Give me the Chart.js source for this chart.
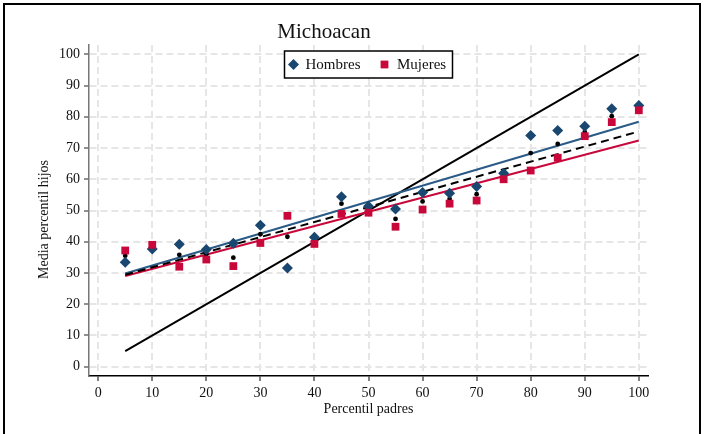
<!DOCTYPE html>
<html>
<head>
<meta charset="utf-8">
<script src="https://cdn.jsdelivr.net/npm/chart.js@4.4.1/dist/chart.umd.min.js"></script>
<style>
  body { margin: 0; background: #fff; }
  #wrap { position: relative; width: 704px; height: 434px; overflow: hidden; }
  #frame {
    position: absolute; left: 3px; top: 3px; width: 694px; height: 470px;
    border: 2px solid #000; border-bottom: none; pointer-events: none;
  }
</style>
</head>
<body>
<div id="wrap">
  <canvas id="chart" width="704" height="434"></canvas>
  <div id="frame"></div>
</div>
<script>
// percentil de los padres (eje x)
const percentiles = [5, 10, 15, 20, 25, 30, 35, 40, 45, 50, 55, 60, 65, 70, 75, 80, 85, 90, 95, 100];
// media del percentil de los hijos
const hombres = [33.4, 37.7, 39.2, 37.5, 39.5, 45.3, 31.6, 41.4, 54.4, 51.4, 50.5, 55.8, 55.5, 57.7, 61.9, 74.0, 75.6, 77.0, 82.6, 83.6];
const mujeres = [37.2, 39.0, 32.0, 34.3, 32.2, 39.6, 48.3, 39.3, 48.9, 49.3, 44.8, 50.3, 52.2, 53.2, 60.0, 62.8, 66.9, 73.8, 78.3, 82.1];
const total = [35.5, 38.3, 35.8, 36.0, 34.9, 42.4, 41.6, 40.4, 52.2, 50.3, 47.3, 52.9, 53.7, 55.2, 61.0, 68.4, 71.3, 75.1, 80.2, 82.9];

// rectas ajustadas (extremos) y linea de 45 grados
const fitX = [5, 100];
const fitHombres = [29.8, 78.4];
const fitMujeres = [29.0, 72.4];
const fitTotal = [29.4, 75.3];
const diagonal = [5, 100];

const xTicks = [0, 10, 20, 30, 40, 50, 60, 70, 80, 90, 100];
const yTicks = [0, 10, 20, 30, 40, 50, 60, 70, 80, 90, 100];

const titulo = 'Michoacan';
const xTitulo = 'Percentil padres';
const yTitulo = 'Media percentil hijos';

const azul = '#1a476f';
const azulLinea = '#2a5a86';
const rojo = '#c8083a';
const serif = '"Liberation Serif", "Times New Roman", serif';

const pts = (xs, ys) => xs.map((x, i) => ({ x: x, y: ys[i] }));

Chart.defaults.font.family = serif;
Chart.defaults.color = '#111';

// leyenda con marco dentro del area del grafico
const legendBox = {
  id: 'legendBox',
  afterDraw(chart) {
    const { ctx, chartArea } = chart;
    const w = 168, h = 27;
    const left = (chartArea.left + chartArea.right) / 2 - w / 2;
    const top = chartArea.top + 6;
    const cy = top + h / 2;
    ctx.save();
    ctx.fillStyle = '#fff';
    ctx.fillRect(left, top, w, h);
    ctx.strokeStyle = '#000';
    ctx.lineWidth = 1.5;
    ctx.strokeRect(left, top, w, h);

    // rombo
    ctx.fillStyle = azul;
    ctx.beginPath();
    ctx.moveTo(left + 9, cy - 5.5);
    ctx.lineTo(left + 14.5, cy);
    ctx.lineTo(left + 9, cy + 5.5);
    ctx.lineTo(left + 3.5, cy);
    ctx.closePath();
    ctx.fill();
    // cuadro
    ctx.fillStyle = rojo;
    ctx.fillRect(left + 100 - 3.9, cy - 3.9, 7.8, 7.8);

    ctx.fillStyle = '#111';
    ctx.font = '15px ' + serif;
    ctx.textBaseline = 'middle';
    ctx.fillText('Hombres', left + 21, cy + 1);
    ctx.fillText('Mujeres', left + 112.5, cy + 1);
    ctx.restore();
  }
};

// titulo del eje y
const yAxisTitle = {
  id: 'yAxisTitle',
  afterDraw(chart) {
    const { ctx, chartArea } = chart;
    ctx.save();
    ctx.translate(chartArea.left - 45, (chartArea.top + chartArea.bottom) / 2 + 9);
    ctx.rotate(-Math.PI / 2);
    ctx.font = '14px ' + serif;
    ctx.textAlign = 'center';
    ctx.textBaseline = 'middle';
    ctx.fillStyle = '#111';
    ctx.fillText(yTitulo, 0, 0);
    ctx.restore();
  }
};

new Chart(document.getElementById('chart'), {
  type: 'scatter',
  data: {
    datasets: [
      { label: 'Hombres', data: pts(percentiles, hombres), pointStyle: 'rectRot', pointRadius: 5.5,
        backgroundColor: azul, borderWidth: 0, order: 1 },
      { label: 'Mujeres', data: pts(percentiles, mujeres), pointStyle: 'rect', pointRadius: 5.5,
        backgroundColor: rojo, borderWidth: 0, order: 0 },
      { label: 'Total', data: pts(percentiles, total), pointStyle: 'circle', pointRadius: 2.4,
        backgroundColor: '#000', borderWidth: 0, order: 2 },
      { label: 'Ajuste total', data: pts(fitX, fitTotal), showLine: true, pointRadius: 0,
        borderColor: '#000', borderWidth: 2, borderDash: [8, 5], order: 3 },
      { label: 'Ajuste mujeres', data: pts(fitX, fitMujeres), showLine: true, pointRadius: 0,
        borderColor: rojo, borderWidth: 2, order: 4 },
      { label: 'Ajuste hombres', data: pts(fitX, fitHombres), showLine: true, pointRadius: 0,
        borderColor: azulLinea, borderWidth: 2, order: 5 },
      { label: '45 grados', data: pts(diagonal, diagonal), showLine: true, pointRadius: 0,
        borderColor: '#000', borderWidth: 2, order: 6 }
    ]
  },
  options: {
    responsive: false,
    animation: false,
    layout: { padding: { left: 0, right: 56, top: 0, bottom: 0 } },
    plugins: {
      legend: { display: false },
      tooltip: { enabled: false },
      title: {
        display: true, text: titulo, color: '#111',
        font: { size: 21, weight: 'normal', lineHeight: 1 },
        padding: { top: 21.5, bottom: 2.5 }
      }
    },
    scales: {
      x: {
        type: 'linear', min: -1.7, max: 101.7,
        afterBuildTicks: s => { s.ticks = xTicks.map(v => ({ value: v })); },
        afterFit: s => { s.height = 58; },
        ticks: { padding: 4, color: '#111', font: { size: 14 }, maxRotation: 0, autoSkip: false },
        grid: { color: '#e6e6e6', lineWidth: 2, tickLength: 5, tickColor: '#000', tickWidth: 1, tickBorderDash: [] },
        border: { display: true, color: '#000', width: 1.5, dash: [7, 4] },
        title: { display: true, text: xTitulo, color: '#111', font: { size: 14 }, padding: { top: 0, bottom: 16 } }
      },
      y: {
        type: 'linear', min: -3, max: 103,
        afterBuildTicks: s => { s.ticks = yTicks.map(v => ({ value: v })); },
        afterFit: s => { s.width = 89; },
        ticks: { padding: 4, color: '#111', font: { size: 14 }, autoSkip: false },
        grid: { color: '#e6e6e6', lineWidth: 2, tickLength: 5, tickColor: '#222', tickWidth: 1, tickBorderDash: [] },
        border: { display: true, color: '#777', width: 1.5, dash: [7, 4] }
      }
    }
  },
  plugins: [legendBox, yAxisTitle]
});
</script>
</body>
</html>
